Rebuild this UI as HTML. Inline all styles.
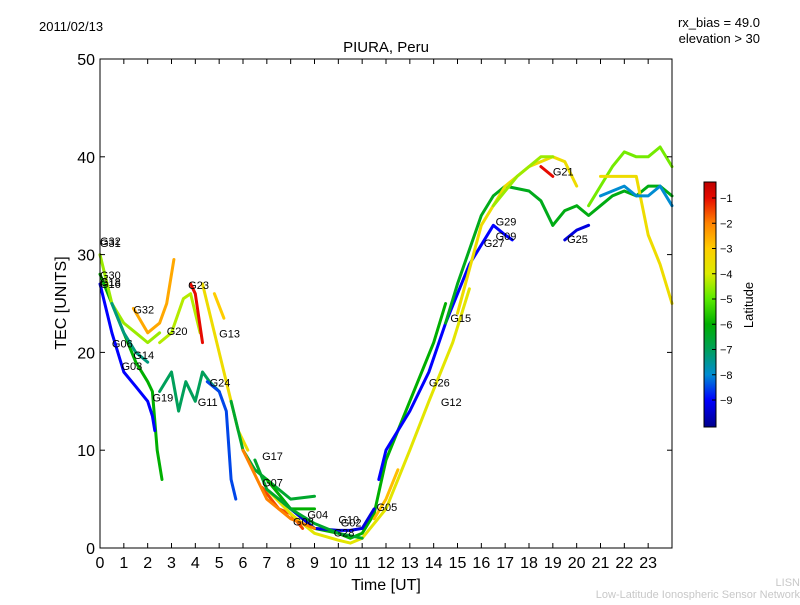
<!DOCTYPE html>
<html><head><meta charset="utf-8"><style>
body{margin:0;background:#fff;width:800px;height:600px;overflow:hidden;font-family:"Liberation Sans","DejaVu Sans",sans-serif}
</style></head><body>
<svg id="chart" width="800" height="600" xmlns="http://www.w3.org/2000/svg">
<defs><linearGradient id="jet" x1="0" y1="1" x2="0" y2="0" gradientUnits="objectBoundingBox"></linearGradient></defs>
<text x="39" y="31" font-size="13">2011/02/13</text>
<text x="760" y="27" font-size="13" text-anchor="end">rx_bias = 49.0</text>
<text x="760" y="43" font-size="13" text-anchor="end">elevation &gt; 30</text>
<text x="386" y="52" font-size="15" text-anchor="middle">PIURA, Peru</text>
<g id="marks"></g>
<rect x="100" y="59" width="572" height="489" fill="none" stroke="#000" stroke-width="1"/>
<g id="axes"></g>
<text x="386" y="590" font-size="16" text-anchor="middle">Time [UT]</text>
<text x="66" y="303" font-size="16" text-anchor="middle" transform="rotate(-90 66 303)">TEC [UNITS]</text>
<rect x="704" y="182" width="12" height="245" fill="url(#jet)" stroke="#000" stroke-width="1"/>
<g id="cbticks"></g>
<text x="753" y="305" font-size="13" text-anchor="middle" transform="rotate(-90 753 305)">Latitude</text>
<text x="800" y="586" font-size="11" fill="#c8c8c8" text-anchor="end">LISN</text>
<text x="800" y="598" font-size="11" fill="#c8c8c8" text-anchor="end">Low-Latitude Ionospheric Sensor Network</text>
</svg>
<script>
const trackLat=[-6,-9,-4.5,-2.5,-4.3,-1,-3.5,-7,-8.5,-6.5,-1.5,-6,-3.8,-9,-2.8,-6.3,-9.3,-3.5,-1,-6.2,-4.5,-4.8,-9.3,-6,-3.5,-8,-3,-2,-7.3,-6.5];
const trackT=[
[0,0.5,1,1.5,2,2.2,2.4,2.6],
[0,0.5,1,1.5,2,2.2,2.3],
[0,0.5,1,1.5,2,2.5],
[1.4,2,2.5,2.8,3.1],
[2.5,3,3.5,3.8,4.2],
[3.8,4,4.3],
[4.3,4.8,5.3,5.8,6.2],
[2.5,3,3.3,3.6,4,4.3,4.6,5],
[4.5,5,5.3,5.5,5.7],
[5.5,6,6.5,7,8,9],
[6.8,7.5,8,8.5],
[7,8,9,10,10.5,11,11.5,12,13,14,14.5],
[7,8,9,10,10.5,11,12,13,13.8,14.8,15.5],
[11.7,12,13,13.8,14.5,15.5,16.5,17,17.3],
[11.5,12,12.5],
[14.5,15,16,16.5,17,18,18.5,19],
[7.5,8,9,10,10.5,11,11.5],
[15,16,17,18,19,19.5,20],
[18.5,19],
[19,19.5,20,20.5,21,21.5,22,22.5,23,23.5,24],
[16.5,17.5,18.5,19],
[20.5,21,21.5,22,22.5,23,23.5,24],
[19.5,20,20.5],
[8,8.5,9],
[21,22,22.5,23,23.5,24],
[21,22,22.5,23,23.5,24],
[4.8,5.2],
[6,7,8,9],
[0.5,1,1.5,2],
[6.5,7,8,9,10,11]];
const trackV=[
[28,25,22,19,17,16,10,7],
[27,22,18,16.5,15,13.5,12],
[30,25,23,22,21,22],
[24.5,22,23,25,29.5],
[21,22,25.5,26,22],
[27,26,21],
[27,22,17,12,10],
[16,18,14,17,15,18,17,16],
[17,16,14,7,5],
[15,10,8,7,5,5.3],
[6.2,4,3.5,2],
[7,4,2,1.5,1,1.5,3.5,9,15,21,25],
[6,3.5,1.5,0.8,0.5,1,4,10,15,21,26.5],
[7,10,14,18,23,29,33,32,31.5],
[3,5,8],
[23,27,34,36,37,36.5,35.5,33],
[5,4,2,1.8,1.8,2,4],
[24,33,37,39,40,39.5,37],
[39,38],
[33,34.5,35,34,35,36,36.5,36,37,37,36],
[35,38,40,40],
[35,37,39,40.5,40,40,41,39],
[31.5,32.5,33],
[4,4,4],
[38,38,38,32,29,25],
[36,37,36,36,37,35],
[26,23.5],
[10,5,3,2],
[25,22,20,19],
[9,6,4,2.5,1.5,1]];
const labelText=["G32","G31","G30","G18","G16","G32","G20","G23","G13","G06","G14","G03","G24","G19","G11","G17","G07","G08","G04","G10","G02","G28","G05","G15","G26","G12","G29","G09","G27","G21","G25"];
const labelT=[0,0,0,0,0,1.4,2.8,3.7,5,0.5,1.4,0.9,4.6,2.2,4.1,6.8,6.8,8.1,8.7,10,10.1,9.8,11.6,14.7,13.8,14.3,16.6,16.6,16.1,19,19.6];
const labelV=[31,30.8,27.5,26.8,26.6,24,21.8,26.5,21.5,20.5,19.3,18.2,16.5,15,14.5,9,6.3,2.3,3,2.5,2.2,1.2,3.8,23.1,16.5,14.5,33,31.5,30.8,38.1,31.2];
const xTicks=[0,1,2,3,4,5,6,7,8,9,10,11,12,13,14,15,16,17,18,19,20,21,22,23];
const yTicks=[0,10,20,30,40,50];
const cbTicks=[-1,-2,-3,-4,-5,-6,-7,-8,-9];
const stopL=[-10.07,-9,-8,-7,-6,-5,-4,-3,-2,-1,-0.37];
const stopC=[[0,0,140],[0,0,255],[0,140,210],[0,160,90],[0,175,0],[90,235,0],[220,235,0],[255,205,0],[255,130,0],[230,10,0],[190,0,0]];
const X=t=>100+t*572/24, Y=v=>548-v*489/50, CB=l=>198+(-1-l)*25.25;
function jet(l){l=Math.max(stopL[0],Math.min(stopL[10],l));
 for(let i=0;i<10;i++){if(l<=stopL[i+1]){const f=(l-stopL[i])/(stopL[i+1]-stopL[i]);const c=stopC[i].map((v,k)=>Math.round(v+(stopC[i+1][k]-v)*f));return `rgb(${c})`;}}
 return `rgb(${stopC[10]})`;}
const NS="http://www.w3.org/2000/svg";
const marks=document.getElementById('marks'),axes=document.getElementById('axes'),cbt=document.getElementById('cbticks');
function mk(tag,attrs,parent){const e=document.createElementNS(NS,tag);for(const k in attrs)e.setAttribute(k,attrs[k]);parent.appendChild(e);return e;}
const grad=document.getElementById('jet');
stopL.forEach((l,i)=>{mk('stop',{offset:((l-stopL[0])/(stopL[10]-stopL[0])).toFixed(3),'stop-color':`rgb(${stopC[i]})`},grad);});
trackT.forEach((ts,i)=>{
 const d=ts.map((t,j)=>(j?'L':'M')+X(t).toFixed(1)+' '+Y(trackV[i][j]).toFixed(1)).join(' ');
 const p=mk('path',{d:d,fill:'none',stroke:jet(trackLat[i]),'stroke-width':3,'stroke-linejoin':'round','stroke-linecap':'round'},marks);
 
 
});
labelText.forEach((s,i)=>{
 const e=mk('text',{x:X(labelT[i]),y:Y(labelV[i]),'font-size':11},marks);e.textContent=s;
 
 
});
xTicks.forEach(t=>{
 mk('line',{x1:X(t),x2:X(t),y1:548,y2:543,stroke:'#000'},axes);
 mk('line',{x1:X(t),x2:X(t),y1:59,y2:64,stroke:'#000'},axes);
 const e=mk('text',{x:X(t),y:568,'font-size':16,'text-anchor':'middle'},axes);e.textContent=t;
 
 
});
yTicks.forEach(v=>{
 mk('line',{x1:100,x2:105,y1:Y(v),y2:Y(v),stroke:'#000'},axes);
 mk('line',{x1:667,x2:672,y1:Y(v),y2:Y(v),stroke:'#000'},axes);
 const e=mk('text',{x:95,y:Y(v)+6,'font-size':16,'text-anchor':'end'},axes);e.textContent=v;
 
 
});
cbTicks.forEach(l=>{
 mk('line',{x1:712,x2:716,y1:CB(l),y2:CB(l),stroke:'#000'},cbt);
 const e=mk('text',{x:720,y:CB(l)+4,'font-size':11},cbt);e.textContent='\u2212'+(-l);
 
 
});
</script>
</body></html>
